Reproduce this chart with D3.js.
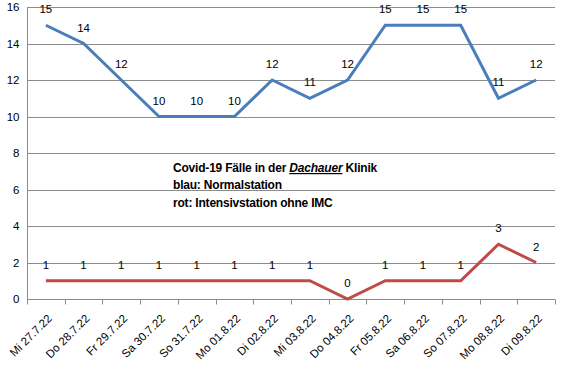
<!DOCTYPE html>
<html>
<head>
<meta charset="utf-8">
<script src="https://cdn.jsdelivr.net/npm/d3@7"></script>
<style>
  body { margin: 0; background: #fff; }
  svg { font-family: "Liberation Sans", Arial, sans-serif; }
  .grid line { stroke: #8c8c8c; stroke-width: 1; }
  .axis path, .axis line { stroke: #8c8c8c; }
  .axis text { font-size: 11px; fill: #000; }
</style>
</head>
<body>
<div id="chart"></div>
<script>
// Kategorien (Datum)
const days = ['Mi 27.7.22', 'Do 28.7.22', 'Fr 29.7.22', 'Sa 30.7.22', 'So 31.7.22',
  'Mo 01.8.22', 'Di 02.8.22', 'Mi 03.8.22', 'Do 04.8.22', 'Fr 05.8.22',
  'Sa 06.8.22', 'So 07.8.22', 'Mo 08.8.22', 'Di 09.8.22']
// blau: Normalstation
const normal = [15, 14, 12, 10, 10, 10, 12, 11, 12, 15, 15, 15, 11, 12]
// rot: Intensivstation ohne IMC
const intensiv = [1, 1, 1, 1, 1, 1, 1, 1, 0, 1, 1, 1, 3, 2]
const yTicks = [0, 2, 4, 6, 8, 10, 12, 14, 16]

const width = 570
const height = 379
const margin = { top: 7, right: 15, bottom: 80, left: 27 }

const svg = d3.select('#chart').append('svg')
  .attr('width', width)
  .attr('height', height)

const g = svg.append('g')
  .attr('transform', 'translate(' + margin.left + ',' + margin.top + ')')

const w = width - margin.left - margin.right
const h = height - margin.top - margin.bottom

const x = d3.scaleBand().domain(days).range([0, w])
const y = d3.scaleLinear().domain([0, 16]).range([h, 0])
const cx = d => x(d) + x.bandwidth() / 2

// Gitternetzlinien
g.append('g').attr('class', 'grid')
  .selectAll('line')
  .data(yTicks.filter(t => t > 0))
  .join('line')
  .attr('x1', 0).attr('x2', w)
  .attr('y1', d => Math.round(y(d)) + 0.5)
  .attr('y2', d => Math.round(y(d)) + 0.5)

// y-Achse
const yAxis = g.append('g').attr('class', 'axis')
  .attr('transform', 'translate(0.5,0)')
  .call(d3.axisLeft(y).tickValues(yTicks).tickSize(0).tickPadding(8))
yAxis.select('.domain').attr('d', 'M0,0V' + h)
yAxis.selectAll('text').style('font-size', '11.5px')

// x-Achse
const xAxis = g.append('g').attr('class', 'axis')
  .attr('transform', 'translate(0,' + (Math.round(h) + 0.5) + ')')
  .call(d3.axisBottom(x).tickSize(0).tickFormat(''))
xAxis.select('.domain').attr('d', 'M0,0H' + w)
xAxis.selectAll('.tk')
  .data(d3.range(days.length + 1))
  .join('line')
  .attr('class', 'tk')
  .attr('x1', i => Math.round(i * x.step()) + 0.5)
  .attr('x2', i => Math.round(i * x.step()) + 0.5)
  .attr('y1', 0).attr('y2', 5)
  .attr('stroke', '#8c8c8c')

xAxis.selectAll('.lbl')
  .data(days)
  .join('text')
  .attr('class', 'lbl')
  .attr('text-anchor', 'end')
  .attr('transform', d => 'translate(' + (cx(d) + 1) + ',14) rotate(-45)')
  .attr('dy', '0.7em')
  .style('font-size', '11.5px')
  .text(d => d)

// Linien
const line = d3.line().x((d, i) => cx(days[i])).y(d => y(d))

g.append('path').datum(normal)
  .attr('fill', 'none').attr('stroke', '#4a7ebb').attr('stroke-width', 3)
  .attr('d', line)

g.append('path').datum(intensiv)
  .attr('fill', 'none').attr('stroke', '#be4b48').attr('stroke-width', 3)
  .attr('d', line)

// Datenbeschriftungen
function appendLabels (data) {
  g.append('g').selectAll('text')
    .data(data)
    .join('text')
    .attr('x', (d, i) => cx(days[i]))
    .attr('y', d => y(d) - 12)
    .attr('text-anchor', 'middle')
    .style('font-size', '11.5px')
    .attr('fill', '#000')
    .text(d => d)
}
appendLabels(normal)
appendLabels(intensiv)

// Textfeld
const noteStyle = sel => sel
  .style('font-size', '12px')
  .style('font-weight', 'bold')
  .style('letter-spacing', '-0.2px')
  .attr('fill', '#000')
const note = svg.append('text')
  .attr('x', 173).attr('y', 172)
  .call(noteStyle)
note.append('tspan').text('Covid-19 Fälle in der ')
note.append('tspan').text('Dachauer')
  .style('font-style', 'italic').style('text-decoration', 'underline')
note.append('tspan').text(' Klinik')
svg.append('text').attr('x', 173).attr('y', 189)
  .call(noteStyle)
  .text('blau: Normalstation')
svg.append('text').attr('x', 173).attr('y', 207)
  .call(noteStyle)
  .text('rot: Intensivstation ohne IMC')
</script>
</body>
</html>
